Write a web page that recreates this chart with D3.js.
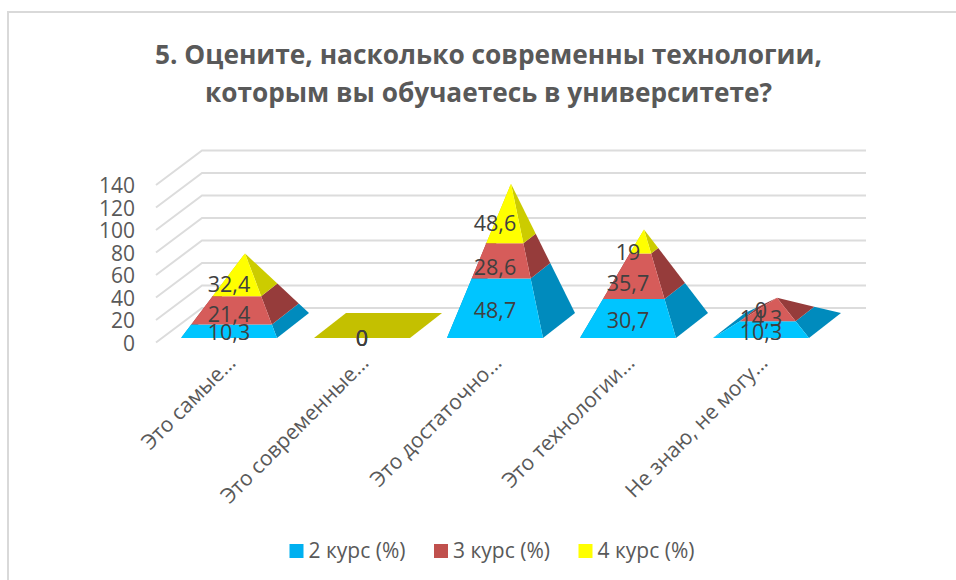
<!DOCTYPE html>
<html>
<head>
<meta charset="utf-8">
<script src="https://cdn.jsdelivr.net/npm/d3@7/dist/d3.min.js"></script>
<style>
  html, body { margin: 0; padding: 0; background: #fff; }
  text { font-family: "Open Sans", "Noto Sans", sans-serif; fill: #595959; }
</style>
</head>
<body>
<div id="chart"></div>
<script>
const categories = ["Это самые...", "Это современные...", "Это достаточно...", "Это технологии...", "Не знаю, не могу..."];
const course2 = [10.3, 0, 48.7, 30.7, 10.3];
const course3 = [21.4, 0, 28.6, 35.7, 14.3];
const course4 = [32.4, 0, 48.6, 19, 0];
const seriesNames = ["2 курс (%)", "3 курс (%)", "4 курс (%)"];
const yTicks = [0, 20, 40, 60, 80, 100, 120, 140];
const titleLines = ["5. Оцените, насколько современны технологии,", "которым вы обучаетесь в университете?"];

const frontColors = ["#00c5ff", "#d65c5a", "#ffff00"];
const sideColors = ["#008bbd", "#963c3b", "#cccc00"];
const legendColors = ["#00b0f0", "#c0504d", "#ffff00"];
const flatColor = "#c4c000";

const width = 956, height = 580;
const svg = d3.select("#chart").append("svg")
  .attr("width", width)
  .attr("height", height)
  .style("display", "block");

// frame, cut off by the right and bottom edges
svg.append("path")
  .attr("d", `M8,${height} V12 H${width}`)
  .attr("fill", "none")
  .attr("stroke", "#d9d9d9")
  .attr("stroke-width", 2);

const titleLengths = [667, 567];
svg.selectAll(".title")
  .data(titleLines)
  .enter()
  .append("text")
  .attr("class", "title")
  .attr("x", 488.5)
  .attr("y", (d, i) => 64 + i * 38)
  .attr("text-anchor", "middle")
  .attr("textLength", (d, i) => titleLengths[i])
  .attr("lengthAdjust", "spacingAndGlyphs")
  .style("font-size", "26px")
  .style("font-weight", 700)
  .text(d => d);

// depth of the 3D box
const depthX = 46, depthY = 34.5;
const floorY = 342.5, wallLeft = 156, wallRight = 866;
const y = d3.scaleLinear().domain([0, 140]).range([floorY, floorY - 157.5]);

// walls
const grid = svg.append("g");
yTicks.forEach(t => {
  grid.append("path")
    .attr("d", d3.line()([
      [wallLeft, y(t)],
      [wallLeft + depthX, y(t) - depthY],
      [wallRight, y(t) - depthY]
    ]))
    .attr("fill", "none")
    .attr("stroke", "#dcdcdc")
    .attr("stroke-width", 2);
});

svg.append("g")
  .attr("transform", `translate(${wallLeft - 21},0)`)
  .call(d3.axisLeft(y).tickValues(yTicks).tickSize(0).tickPadding(0))
  .call(g => g.select(".domain").remove())
  .call(g => g.selectAll("text")
    .attr("fill", "#595959")
    .attr("dy", "0.36em")
    .style("font-size", "21px")
    .style("font-family", '"Open Sans", "Noto Sans", sans-serif'));

// pyramids
const x = d3.scaleBand()
  .domain(categories)
  .range([181, 809])
  .paddingInner(37 / 133);

const baseW = x.bandwidth();
const baseDX = 32, baseDY = 25, baseY = 338;
const h = d3.scaleLinear().domain([0, 140]).range([0, 157.5]);

const rows = categories.map((c, i) => ({ cat: c, s0: course2[i], s1: course3[i], s2: course4[i] }));
const keys = ["s0", "s1", "s2"];
const stacked = d3.stack().keys(keys)(rows);

const pyramids = svg.append("g");
const labels = [];

categories.forEach((cat, i) => {
  const x0 = x(cat);
  const total = course2[i] + course3[i] + course4[i];
  const fl = [x0, baseY];
  const fr = [x0 + baseW, baseY];
  const br = [x0 + baseW + baseDX, baseY - baseDY];
  const bl = [x0 + baseDX, baseY - baseDY];
  const apex = [x0 + (baseW + baseDX) / 2, baseY - baseDY / 2 - h(total)];
  const at = (p, v) => {
    const f = total ? v / total : 0;
    return [p[0] + (apex[0] - p[0]) * f, p[1] + (apex[1] - p[1]) * f];
  };
  const face = (a, b, v0, v1, fill) => pyramids.append("path")
    .attr("d", d3.line()([at(a, v0), at(b, v0), at(b, v1), at(a, v1)]) + "Z")
    .attr("fill", fill);

  if (total === 0) {
    pyramids.append("path")
      .attr("d", d3.line()([fl, fr, br, bl]) + "Z")
      .attr("fill", flatColor);
  } else {
    stacked.forEach((layer, k) => {
      const [v0, v1] = layer[i];
      if (v1 === v0) return;
      face(fl, bl, v0, v1, sideColors[k]);
      face(fr, br, v0, v1, sideColors[k]);
      face(fl, fr, v0, v1, frontColors[k]);
    });
  }

  stacked.forEach(layer => {
    const [v0, v1] = layer[i];
    labels.push({
      x: x0 + baseW / 2,
      y: baseY - h((v0 + v1) / 2),
      text: String(v1 - v0 === 0 ? 0 : +(v1 - v0).toFixed(1)).replace(".", ",")
    });
  });
});

svg.selectAll(".value")
  .data(labels)
  .enter()
  .append("text")
  .attr("class", "value")
  .attr("x", d => d.x)
  .attr("y", d => d.y)
  .attr("dy", "0.36em")
  .attr("text-anchor", "middle")
  .style("font-size", "21.5px")
  .style("fill", "#404040")
  .text(d => d.text);

// category labels
svg.selectAll(".cat")
  .data(categories)
  .enter()
  .append("text")
  .attr("class", "cat")
  .attr("transform", d => `translate(${x(d) + 56},364) rotate(-45)`)
  .attr("text-anchor", "end")
  .style("font-size", "21px")
  .text(d => d);

// legend
const legendX = d3.scalePoint().domain(seriesNames).range([289.5, 578.5]);
const legend = svg.selectAll(".legend")
  .data(seriesNames)
  .enter()
  .append("g")
  .attr("class", "legend")
  .attr("transform", d => `translate(${legendX(d)},544)`);
legend.append("rect")
  .attr("width", 14)
  .attr("height", 14)
  .attr("fill", (d, i) => legendColors[i]);
legend.append("text")
  .attr("x", 19)
  .attr("y", 14)
  .style("font-size", "21px")
  .text(d => d);
</script>
</body>
</html>
